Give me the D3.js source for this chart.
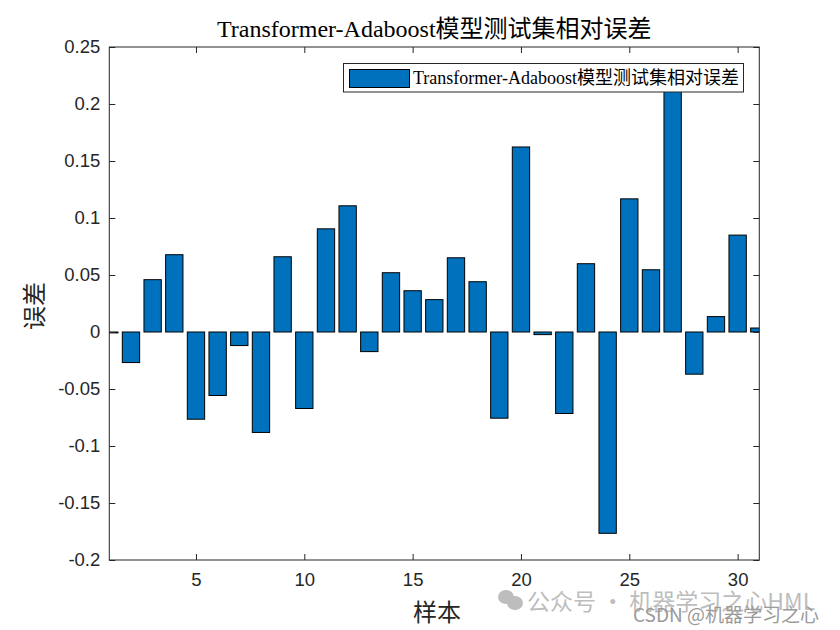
<!DOCTYPE html>
<html>
<head>
<meta charset="utf-8">
<script src="https://cdn.jsdelivr.net/npm/d3@7/dist/d3.min.js"></script>
<style>
  html, body { margin: 0; padding: 0; background: #fff; }
  svg { display: block; }
</style>
</head>
<body>
<svg id="chart" width="840" height="630"></svg>
<script>
// ---- data ----
const samples = d3.range(1, 32);
const errors = [
  -0.0008, -0.0268, 0.0459, 0.0678, -0.0765, -0.0557, -0.0119, -0.0881, 0.0660, -0.0671,
  0.0905, 0.1107, -0.0172, 0.0520, 0.0362, 0.0284, 0.0651, 0.0441, -0.0756, 0.1623,
  -0.0023, -0.0715, 0.0599, -0.1766, 0.1168, 0.0546, 0.2300, -0.0370, 0.0135, 0.0850,
  0.0035
];
const xTicks = [5, 10, 15, 20, 25, 30];
const yTicks = [-0.2, -0.15, -0.1, -0.05, 0, 0.05, 0.1, 0.15, 0.2, 0.25];
const yTickLabels = ["-0.2", "-0.15", "-0.1", "-0.05", "0", "0.05", "0.1", "0.15", "0.2", "0.25"];
const titleText = "Transformer-Adaboost模型测试集相对误差";
const legendText = "Transformer-Adaboost模型测试集相对误差";
const xLabel = "样本";
const yLabel = "误差";

// ---- layout ----
const L = 109.3, R = 759.3, T = 47, B = 560;
const svg = d3.select("#chart");
const serif = "'Liberation Serif', 'Times New Roman', 'Noto Sans CJK SC', serif";
const sans = "'Liberation Sans', Arial, sans-serif";

const x = d3.scaleLinear().domain([1, 31]).range([L, R]);
const y = d3.scaleLinear().domain([-0.2, 0.25]).range([B, T]);
const bw = (x(2) - x(1)) * 0.8;

svg.append("defs").append("clipPath").attr("id", "clip")
  .append("rect").attr("x", L).attr("y", T).attr("width", R - L).attr("height", B - T);

// bars
svg.append("g").attr("clip-path", "url(#clip)")
  .selectAll("rect").data(samples).join("rect")
  .attr("x", (d) => x(d) - bw / 2)
  .attr("y", (d, i) => y(Math.max(0, errors[i])))
  .attr("width", bw)
  .attr("height", (d, i) => Math.abs(y(errors[i]) - y(0)))
  .attr("fill", "#0072BD")
  .attr("stroke", "#000")
  .attr("stroke-width", 1);

// axes
const tickLen = 6;
const axB = d3.axisBottom(x).tickValues(xTicks).tickSizeInner(-tickLen).tickSizeOuter(0).tickPadding(13);
const axT = d3.axisTop(x).tickValues(xTicks).tickSizeInner(-tickLen).tickSizeOuter(0).tickFormat("");
const axL = d3.axisLeft(y).tickValues(yTicks).tickSizeInner(-tickLen).tickSizeOuter(0).tickPadding(9)
  .tickFormat((d, i) => yTickLabels[i]);
const axR = d3.axisRight(y).tickValues(yTicks).tickSizeInner(-tickLen).tickSizeOuter(0).tickFormat("");

function style(g) {
  g.select(".domain").remove();
  g.selectAll("line").attr("stroke", "#262626").attr("stroke-width", 1);
  g.selectAll("text").attr("font-family", sans).attr("font-size", 18.5).attr("fill", "#262626");
}
svg.append("g").attr("transform", `translate(0,${B})`).call(axB).call(style);
svg.append("g").attr("transform", `translate(0,${T})`).call(axT).call(style);
svg.append("g").attr("transform", `translate(${L},0)`).call(axL).call(style);
svg.append("g").attr("transform", `translate(${R},0)`).call(axR).call(style);

// box
svg.append("rect").attr("x", L).attr("y", T).attr("width", R - L).attr("height", B - T)
  .attr("fill", "none").attr("stroke", "#262626").attr("stroke-width", 1);

// title
svg.append("text").attr("x", (L + R) / 2).attr("y", 37).attr("text-anchor", "middle")
  .attr("font-family", serif).attr("font-size", 24).attr("fill", "#000").text(titleText);

// axis labels
svg.append("text").attr("x", 437).attr("y", 621).attr("text-anchor", "middle")
  .attr("font-family", serif).attr("font-size", 24).attr("fill", "#262626").text(xLabel);
svg.append("text").attr("transform", "translate(43,306) rotate(-90)").attr("text-anchor", "middle")
  .attr("font-family", serif).attr("font-size", 24).attr("fill", "#262626").text(yLabel);

// legend
const lg = svg.append("g");
lg.append("rect").attr("x", 343.5).attr("y", 63.5).attr("width", 400).attr("height", 28.5)
  .attr("fill", "#fff").attr("stroke", "#262626").attr("stroke-width", 1);
lg.append("rect").attr("x", 349.5).attr("y", 69.5).attr("width", 60).attr("height", 18)
  .attr("fill", "#0072BD").attr("stroke", "#000").attr("stroke-width", 1);
lg.append("text").attr("x", 413).attr("y", 84).attr("font-family", serif).attr("font-size", 18)
  .attr("fill", "#000").text(legendText);

// watermark
const wm = svg.append("g").attr("opacity", 0.55);
wm.append("ellipse").attr("cx", 506).attr("cy", 597).attr("rx", 8).attr("ry", 7).attr("fill", "#888");
wm.append("ellipse").attr("cx", 515).attr("cy", 603).attr("rx", 8).attr("ry", 7).attr("fill", "#888");
wm.append("text").attr("x", 527).attr("y", 610).attr("font-family", "'Noto Sans CJK SC', sans-serif")
  .attr("font-size", 23).attr("fill", "#888").text("公众号 · 机器学习之心HML");
svg.append("text").attr("x", 633).attr("y", 622).attr("font-family", "'Noto Sans CJK SC', sans-serif")
  .attr("font-size", 19).attr("fill", "#9a9a9a").text("CSDN @机器学习之心");
</script>
</body>
</html>
